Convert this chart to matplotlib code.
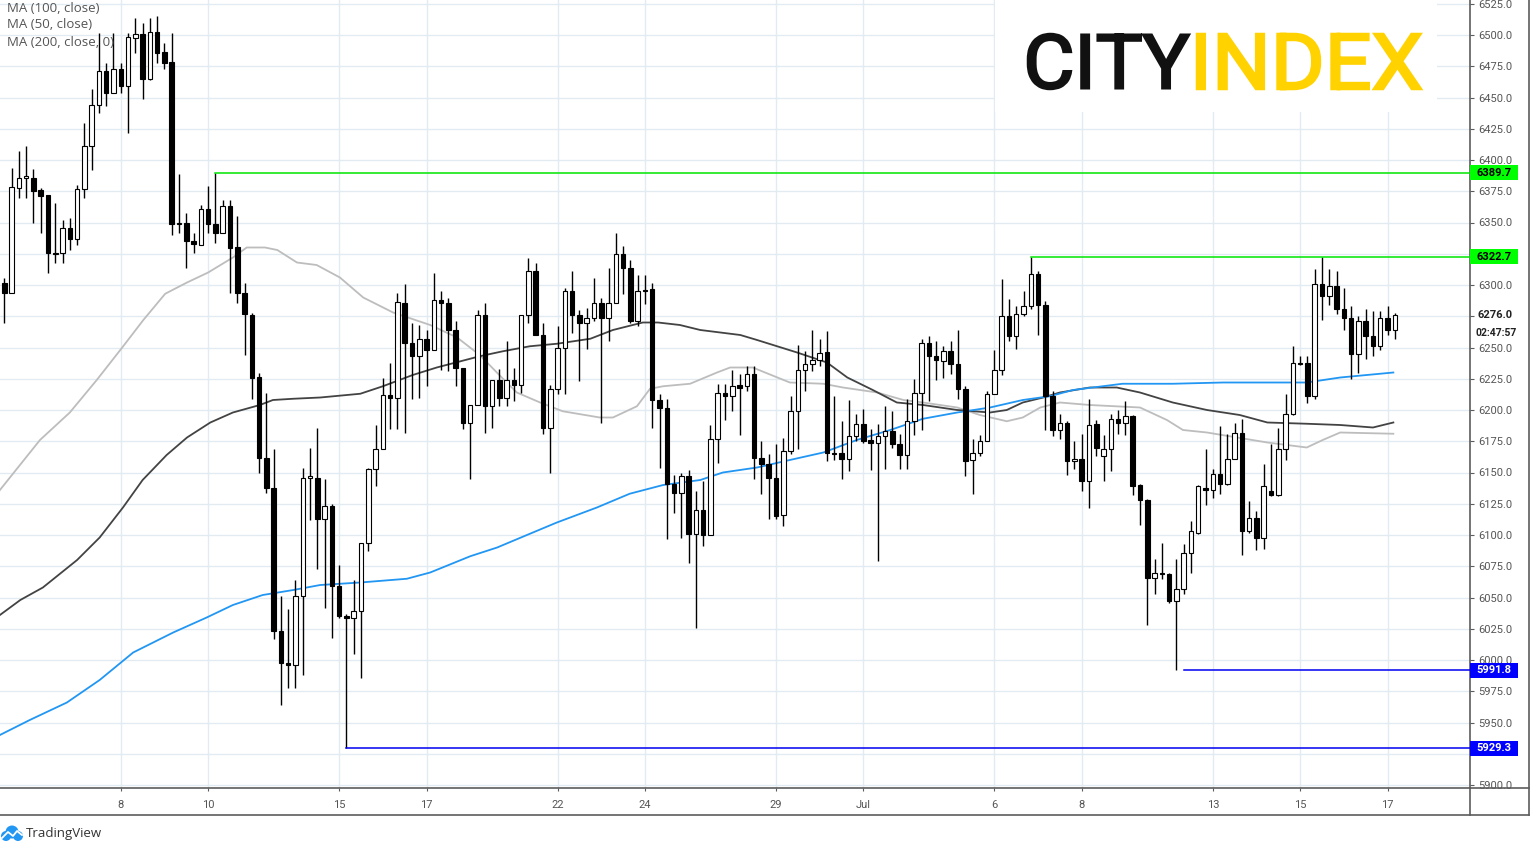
import matplotlib
matplotlib.use("Agg")
import matplotlib.pyplot as plt
from matplotlib.lines import Line2D
from matplotlib.patches import Rectangle, PathPatch, Circle
from matplotlib.textpath import TextPath
from matplotlib.font_manager import FontProperties
from matplotlib.transforms import Affine2D, IdentityTransform

plt.rcParams['font.family'] = ['Roboto', 'DejaVu Sans']

# 4H candles, UK100, 3 Jun - 17 Jul
opens = [6302, 6294, 6378, 6386, 6386, 6376, 6372, 6326, 6326, 6346, 6337, 6377,
         6411, 6444, 6471, 6454, 6473, 6459, 6498, 6501, 6465, 6502, 6486, 6478,
         6349, 6350, 6335, 6332, 6361, 6349, 6342, 6363, 6330, 6294, 6276, 6226,
         6162, 6138, 6023, 5998, 5996, 6051, 6146, 6146, 6113, 6123, 6059, 6035,
         6034, 6039, 6094, 6153, 6169, 6212, 6210, 6286, 6254, 6243, 6257, 6248,
         6288, 6286, 6264, 6234, 6190, 6204, 6276, 6203, 6224, 6210, 6224, 6220,
         6276, 6311, 6260, 6186, 6217, 6250, 6295, 6276, 6270, 6274, 6286, 6274,
         6286, 6325, 6314, 6271, 6296, 6297, 6208, 6202, 6141, 6134, 6147, 6101,
         6120, 6100, 6177, 6214, 6211, 6220, 6219, 6229, 6162, 6157, 6146, 6116,
         6167, 6199, 6232, 6237, 6240, 6246, 6166, 6166, 6161, 6179, 6189, 6176,
         6174, 6179, 6183, 6173, 6164, 6191, 6214, 6254, 6243, 6239, 6247, 6237,
         6217, 6160, 6166, 6175, 6213, 6232, 6275, 6259, 6277, 6283, 6309, 6284,
         6211, 6184, 6190, 6159, 6161, 6143, 6189, 6163, 6169, 6193, 6190, 6195,
         6140, 6128, 6066, 6070, 6069, 6047, 6057, 6086, 6102, 6138, 6136, 6149,
         6141, 6161, 6182, 6103, 6114, 6098, 6135, 6132, 6169, 6197, 6238, 6238,
         6211, 6301, 6291, 6299, 6281, 6274, 6245, 6271, 6259, 6251, 6274, 6264]
highs = [6306, 6394, 6407, 6411, 6393, 6378, 6372, 6366, 6352, 6354, 6380, 6430,
         6457, 6502, 6478, 6502, 6478, 6502, 6514, 6510, 6514, 6515, 6494, 6502,
         6389, 6358, 6342, 6364, 6379, 6389.7, 6368, 6368, 6355, 6302, 6278, 6230,
         6214, 6169, 6051, 6041, 6064, 6154, 6170, 6186, 6145, 6125, 6076, 6037,
         6064, 6094, 6154, 6188, 6226, 6238, 6294, 6301, 6270, 6268, 6264, 6310,
         6295, 6290, 6271, 6234, 6204, 6280, 6286, 6224, 6233, 6255, 6234, 6276,
         6322, 6318, 6270, 6220, 6267, 6298, 6311, 6280, 6282, 6306, 6290, 6314,
         6342, 6331, 6320, 6308, 6308, 6302, 6213, 6209, 6148, 6150, 6152, 6135,
         6143, 6188, 6221, 6221, 6232, 6229, 6235, 6235, 6175, 6165, 6173, 6178,
         6211, 6252, 6247, 6264, 6257, 6263, 6211, 6191, 6208, 6197, 6201, 6185,
         6189, 6203, 6199, 6181, 6209, 6225, 6257, 6259, 6255, 6251, 6255, 6264,
         6219, 6177, 6180, 6215, 6248, 6305, 6289, 6283, 6295, 6322.7, 6311, 6287,
         6215, 6197, 6191, 6175, 6181, 6209, 6192, 6180, 6197, 6200, 6207, 6196,
         6141, 6129, 6081, 6094, 6070, 6081, 6093, 6111, 6140, 6169, 6153, 6187,
         6181, 6190, 6193, 6127, 6119, 6157, 6173, 6186, 6213, 6251, 6243, 6243,
         6313, 6322.7, 6313, 6311, 6298, 6283, 6275, 6281, 6279, 6279, 6283, 6278]
lows = [6270, 6294, 6370, 6370, 6350, 6342, 6310, 6318, 6318, 6328, 6332, 6370,
        6392, 6438, 6443, 6454, 6454, 6422, 6486, 6449, 6464, 6478, 6473, 6340,
        6342, 6314, 6326, 6332, 6342, 6334, 6342, 6294, 6286, 6244, 6209, 6150,
        6134, 6017, 5964, 5978, 5978, 5988, 6112, 6073, 6042, 6018, 6034, 5929.3,
        6005, 5986, 6087, 6139, 6169, 6185, 6185, 6182, 6209, 6210, 6219, 6248,
        6232, 6231, 6219, 6185, 6145, 6204, 6182, 6186, 6203, 6203, 6207, 6214,
        6270, 6260, 6181, 6150, 6213, 6213, 6262, 6223, 6249, 6271, 6190, 6255,
        6286, 6293, 6270, 6267, 6285, 6186, 6154, 6097, 6118, 6098, 6078, 6026,
        6091, 6100, 6158, 6192, 6199, 6180, 6215, 6145, 6133, 6113, 6113, 6107,
        6165, 6169, 6215, 6231, 6235, 6159, 6160, 6145, 6151, 6175, 6174, 6152,
        6079, 6153, 6170, 6153, 6153, 6180, 6184, 6207, 6224, 6226, 6229, 6209,
        6147, 6133, 6163, 6175, 6213, 6228, 6255, 6249, 6275, 6281, 6260, 6184,
        6179, 6177, 6148, 6153, 6135, 6122, 6163, 6143, 6151, 6181, 6180, 6132,
        6108, 6028, 6053, 6065, 6046, 5991.8, 6053, 6070, 6101, 6124, 6130, 6133,
        6140, 6161, 6084, 6102, 6088, 6089, 6131, 6131, 6160, 6196, 6236, 6206,
        6209, 6272, 6284, 6277, 6264, 6225, 6230, 6241, 6243, 6248, 6260, 6257]
closes = [6294, 6378, 6386, 6387, 6375, 6371, 6326, 6325, 6346, 6337, 6377, 6411,
          6444, 6471, 6454, 6473, 6459, 6498, 6501, 6465, 6502, 6486, 6478, 6349,
          6350, 6335, 6333, 6361, 6349, 6342, 6363, 6330, 6294, 6277, 6226, 6162,
          6138, 6023, 5998, 5996, 6051, 6146, 6147, 6113, 6123, 6059, 6035, 6034,
          6039, 6094, 6153, 6169, 6212, 6210, 6286, 6254, 6243, 6257, 6248, 6288,
          6286, 6264, 6234, 6190, 6204, 6276, 6203, 6224, 6210, 6224, 6220, 6276,
          6311, 6260, 6186, 6217, 6250, 6295, 6276, 6270, 6274, 6286, 6274, 6286,
          6325, 6314, 6271, 6295, 6295, 6208, 6202, 6141, 6134, 6147, 6101, 6120,
          6100, 6177, 6214, 6211, 6219, 6218, 6229, 6162, 6157, 6146, 6115, 6167,
          6199, 6232, 6237, 6240, 6246, 6166, 6165, 6161, 6179, 6189, 6175, 6174,
          6179, 6183, 6173, 6164, 6191, 6214, 6254, 6243, 6240, 6247, 6237, 6217,
          6159, 6166, 6175, 6213, 6232, 6275, 6259, 6277, 6283, 6309, 6284, 6211,
          6184, 6190, 6159, 6161, 6143, 6188, 6170, 6169, 6193, 6190, 6195, 6139,
          6128, 6066, 6070, 6069, 6047, 6057, 6086, 6103, 6139, 6136, 6149, 6141,
          6161, 6182, 6103, 6114, 6098, 6139, 6132, 6169, 6197, 6238, 6237, 6211,
          6301, 6291, 6299, 6281, 6274, 6245, 6271, 6259, 6251, 6274, 6264, 6276]

# moving averages (bar index, value)
ma50_bar = [-0.6, 4.9, 9.0, 12.7, 16.2, 19.1, 22.1, 25.1, 28.0, 31.4, 33.3, 35.8, 37.5, 40.2,
            42.9, 46.1, 49.3, 53.4, 58.5, 62.2, 65.3, 68.5, 70.4, 73.6, 76.7, 81.8, 83.6,
            86.9, 88.7, 90.5, 94.2, 97.9, 99.7, 101.7, 102.8, 107.9, 112.5, 115.2, 119.9,
            123.5, 126.2, 130.9, 134.0, 137.7, 139.9, 142.3, 145.0, 149.1, 156.0, 159.7,
            161.9, 165.2, 173.5, 178.9, 181.1, 183.5, 190.8]
ma50_val = [6136, 6176, 6198, 6224, 6250, 6272, 6293, 6302, 6310, 6322, 6330, 6330, 6328, 6318,
            6316, 6306, 6290, 6278, 6268, 6258, 6244, 6225, 6214, 6206, 6199, 6194, 6194,
            6203, 6217, 6219, 6221, 6230, 6234, 6234, 6234, 6222, 6221, 6218, 6214,
            6208, 6206, 6202, 6196, 6191, 6194, 6202, 6206, 6204, 6202, 6192,
            6184, 6182, 6174, 6170, 6176, 6182, 6181]
ma100_bar = [-0.6, 2.2, 5.3, 10.0, 13.1, 16.3, 19.0, 22.3, 25.1, 28.3, 31.4, 35.1, 36.9, 39.7,
             43.4, 48.9, 52.0, 56.1, 59.4, 65.3, 68.5, 72.2, 75.9, 80.5, 83.6, 87.7, 89.8,
             92.8, 95.6, 101.1, 103.4, 108.9, 113.0, 115.8, 119.3, 122.6, 126.2, 130.9,
             135.4, 137.7, 139.9, 142.7, 145.0, 149.1, 152.8, 156.0, 160.5, 165.2, 169.7,
             173.5, 178.9, 183.5, 188.0, 190.8]
ma100_val = [6036, 6048, 6058, 6080, 6098, 6122, 6144, 6164, 6178, 6190, 6198, 6204, 6208, 6209,
             6210, 6213, 6219, 6228, 6234, 6243, 6247, 6251, 6253, 6257, 6264, 6270, 6270,
             6268, 6264, 6260, 6256, 6246, 6238, 6226, 6216, 6206, 6204, 6200,
             6198, 6200, 6206, 6210, 6214, 6218, 6218, 6214, 6206, 6200, 6196,
             6190, 6189, 6188, 6186, 6190]
ma200_bar = [-0.6, 3.5, 8.6, 13.1, 17.7, 23.2, 27.8, 31.4, 35.5, 39.7, 43.4, 48.9, 55.3, 58.5,
             64.0, 67.7, 72.2, 75.9, 81.4, 85.9, 90.5, 95.6, 98.7, 103.4, 107.9, 112.5, 117.1,
             121.7, 126.2, 130.9, 135.4, 139.9, 143.6, 146.8, 153.6, 160.5, 167.4, 174.3,
             178.9, 183.5, 190.8]
ma200_val = [5940, 5952, 5966, 5984, 6006, 6022, 6034, 6044, 6052, 6056, 6060, 6062, 6065, 6070,
             6083, 6090, 6101, 6110, 6122, 6133, 6140, 6144, 6150, 6154, 6160, 6166, 6176,
             6184, 6193, 6198, 6202, 6208, 6211, 6216, 6221, 6221, 6222, 6222,
             6222, 6226, 6230]

date_bars = [16, 28, 46, 58, 76, 88, 106, 118, 136, 148, 166, 178, 190]
date_labels = ["8", "10", "15", "17", "22", "24", "29", "Jul", "6", "8", "13", "15", "17"]

price_ticks = list(range(5900, 6526, 25))
hidden_ticks = [5925, 6275, 6325]   # covered by the price tags on the scale

level_prices = [6389.7, 6322.7, 5991.8, 5929.3]
level_start = [29, 141, 162, 47]
level_colors = ["#00e600", "#00e600", "#0000f0", "#0000f0"]
tag_colors = ["#00ff00", "#00ff00", "#0000ff", "#0000ff"]
tag_text_colors = ["black", "black", "white", "white"]
last_price = 6276.0
countdown = "02:47:57"
legend_lines = ["MA (100, close)", "MA (50, close)", "MA (200, close, 0)"]

W, H = 1536, 848
fig = plt.figure(figsize=(W / 100, H / 100), dpi=100)
fig.patch.set_facecolor("white")
ax = fig.add_axes([0, (H - 788) / H, 1470 / W, 788 / H])
ax.set_xlim(-0.59, 201.33)
ax.set_ylim(5897.6, 6528)
ax.set_axisbelow(True)

# grid
ax.set_yticks(price_ticks)
ax.set_yticklabels(["" if v in hidden_ticks else f"{v:.1f}" for v in price_ticks])
ax.set_xticks(date_bars)
ax.set_xticklabels(date_labels)
ax.grid(True, color="#e3ebf2", linewidth=1)

# logo backdrop hides the grid there
ax.add_patch(Rectangle((995, H - 112), 442, 112, transform=IdentityTransform(),
                       facecolor="white", edgecolor="none", zorder=1))

# moving averages
ax.plot(ma50_bar, ma50_val, color="#bdbdbd", lw=1.3, zorder=2)
ax.plot(ma100_bar, ma100_val, color="#434343", lw=1.3, zorder=2)
ax.plot(ma200_bar, ma200_val, color="#2196f3", lw=1.3, zorder=2)

# candles
n = len(opens)
idx = list(range(n))
ax.vlines(idx, lows, highs, color="black", lw=1.0, zorder=3)
for i in idx:
    o, c = opens[i], closes[i]
    up = c >= o
    bottom = min(o, c)
    h = max(abs(c - o), 0.9)
    ax.bar(i, h, bottom=bottom, width=0.62, color="white" if up else "black",
           edgecolor="black", linewidth=0.8, zorder=4)

# horizontal levels
for p, s, col in zip(level_prices, level_start, level_colors):
    ax.plot([s, 202], [p, p], color=col, lw=1.1, zorder=3, clip_on=True)

for sp in ["top", "left"]:
    ax.spines[sp].set_visible(False)
ax.spines["bottom"].set_color("#5c5c5c")
ax.spines["right"].set_color("#5c5c5c")
ax.spines["bottom"].set_linewidth(1.2)
ax.spines["right"].set_linewidth(1.2)

ax.yaxis.tick_right()
ax.tick_params(axis="y", length=3, width=0.8, color="#5c5c5c", labelcolor="#555555",
               labelsize=8, pad=3)
ax.tick_params(axis="x", length=2.5, width=0.8, color="#5c5c5c", labelcolor="#555555",
               labelsize=8, pad=6)

# frame of time scale / price scale
fig.add_artist(Line2D([0, 1529], [H - 815, H - 815], transform=IdentityTransform(),
                      color="#5c5c5c", lw=1.2))
fig.add_artist(Line2D([1470, 1529], [H - 788, H - 788], transform=IdentityTransform(),
                      color="#5c5c5c", lw=1.2))
fig.add_artist(Line2D([1529, 1529], [H - 815, H], transform=IdentityTransform(),
                      color="#5c5c5c", lw=1.2))
fig.add_artist(Line2D([1470, 1470], [H - 815, H - 788], transform=IdentityTransform(),
                      color="#5c5c5c", lw=1.2))

# price tags
for p, fc, tc in zip(level_prices, tag_colors, tag_text_colors):
    y = ax.transData.transform((0, p))[1]
    fig.add_artist(Rectangle((1470, y - 7.5), 48, 15, transform=IdentityTransform(),
                             facecolor=fc, edgecolor="none", zorder=5))
    fig.text(1494, y, f"{p:.1f}", transform=IdentityTransform(), ha="center", va="center",
             color=tc, fontsize=8, fontweight="bold", zorder=6)

y_last = ax.transData.transform((0, last_price))[1]
fig.text(1478, y_last, f"{last_price:.1f}", transform=IdentityTransform(), ha="left",
         va="center", color="#222222", fontsize=8, fontweight="bold", zorder=6)
fig.text(1475, y_last - 18, countdown, transform=IdentityTransform(), ha="left",
         va="center", color="#222222", fontsize=7.5, fontweight="bold", zorder=6)

# study legend
for k, t in enumerate(legend_lines):
    fig.text(7, H - 8 - 17 * k, t, transform=IdentityTransform(), ha="left", va="center",
             color="#555555", fontsize=9.5, family=["Open Sans", "DejaVu Sans"], zorder=6)


# CITY INDEX logo drawn from glyph outlines fitted to its box (outline thickens the strokes)
def logo_word(word, x0, x1, y_top, y_bot, color):
    tp = TextPath((0, 0), word, size=100, prop=FontProperties(family="Roboto", weight="normal"))
    bb = tp.get_extents()
    tr = (Affine2D().translate(-bb.x0, -bb.y0)
          .scale((x1 - x0) / bb.width, (y_bot - y_top) / bb.height)
          .translate(x0, H - y_bot))
    fig.add_artist(PathPatch(tr.transform_path(tp), transform=IdentityTransform(),
                             facecolor=color, edgecolor=color, linewidth=1.8,
                             joinstyle="miter", zorder=6))


logo_word("CITY", 1028, 1189, 34, 89, "#111111")
logo_word("INDEX", 1197, 1421, 34, 89, "#ffd200")

# TradingView mark
for cx, cy, r in [(6, H - 836, 5), (12, H - 832, 6.5), (18, H - 836, 5)]:
    fig.add_artist(Circle((cx, cy), r, transform=IdentityTransform(),
                          facecolor="#2196f3", edgecolor="none", zorder=6))
fig.add_artist(Line2D([2, 8, 13, 17, 22], [H - 838, H - 832, H - 836, H - 831, H - 835],
                      transform=IdentityTransform(), color="white", lw=1.3, zorder=7))
fig.text(26, H - 833, "TradingView", transform=IdentityTransform(), ha="left", va="center",
         color="#333333", fontsize=9.5, family=["Open Sans", "DejaVu Sans"], zorder=6)

fig.savefig("out.png", dpi=100, facecolor="white")
